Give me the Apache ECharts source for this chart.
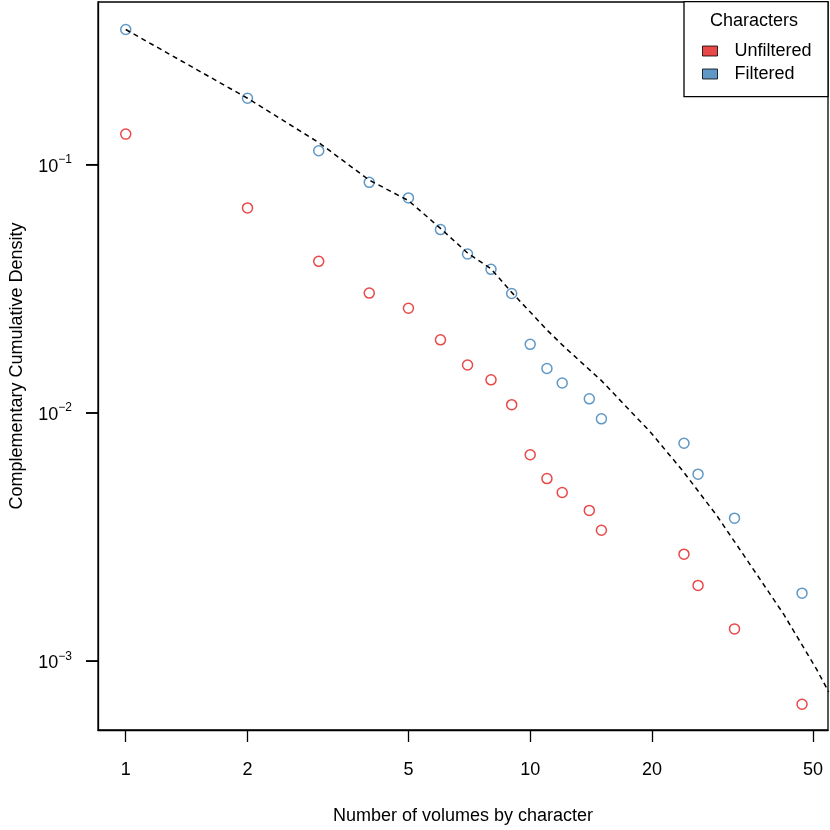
<!DOCTYPE html>
<html>
<head>
<meta charset="utf-8">
<script src="https://cdn.jsdelivr.net/npm/echarts@6/dist/echarts.min.js"></script>
<style>
    html, body {margin: 0; padding: 0; background: #fff;}
    #J_chart {width: 830px; height: 830px;}
</style>
</head>
<body>
<div id="J_chart"></div>
<script>
// number of volumes per character (x)
var volumes = [1, 2, 3, 4, 5, 6, 7, 8, 9, 10, 11, 12, 14, 15, 24, 26, 32, 47];
// complementary cumulative density, filtered characters
var filtered = [0.3505, 0.1852, 0.1138, 0.0849, 0.0735, 0.0548, 0.0437, 0.0379, 0.0303, 0.0189,
    0.0151, 0.0132, 0.0114, 0.00947, 0.00755, 0.00567, 0.00377, 0.00188];
// complementary cumulative density, unfiltered characters
var unfiltered = [0.1328, 0.0670, 0.0408, 0.0304, 0.0264, 0.0197, 0.0156, 0.0136, 0.0108, 0.00679,
    0.00544, 0.00478, 0.00405, 0.00337, 0.00270, 0.00202, 0.00135, 0.000671];
// fitted curve (dashed)
var fitX = [1, 2, 3, 4, 5, 6, 7, 8, 9, 10, 11, 12, 15, 18, 19.7, 23.8, 28.9, 34.8, 42.3, 51, 54.7];
var fitY = [0.3504, 0.1852, 0.1228, 0.0867, 0.0717, 0.0554, 0.0441, 0.0381, 0.0306, 0.0255, 0.0216,
    0.0188, 0.0135, 0.00988, 0.00848, 0.00586, 0.00387, 0.00248, 0.00155, 0.000931, 0.000753];
// tick labels
var xTicks = [1, 2, 5, 10, 20, 50];
var yTicks = [0.001, 0.01, 0.1];

var RED = '#E41A1C', BLUE = '#377EB8';
var FONT = '"Liberation Sans", Arial, Helvetica, sans-serif';
var X_MIN = -0.0686, X_MAX = 1.7363;
var Y_MIN = -3.277, Y_MAX = -0.3446;

function lg(v) {
    return Math.log10(v);
}
function pairs(xs, ys) {
    var out = [];
    for (var i = 0; i < xs.length; i++) {
        out.push([lg(xs[i]), lg(ys[i])]);
    }
    return out;
}

var chart = echarts.init(document.getElementById('J_chart'));
var legendBox = [
    {
        type: 'rect', z: 1,
        shape: {x: 684, y: 1.7, width: 144, height: 95},
        style: {fill: '#fff', stroke: '#000', lineWidth: 1.3}
    },
    {
        type: 'text', z: 2,
        left: 757 - 47, top: 12,
        style: {text: 'Characters', fontSize: 18, fontFamily: FONT, fill: '#000'}
    }
];
var option = {
    animation: false,
    grid: {
        left: 97, right: 2, top: 2, bottom: 98,
        show: true, borderColor: '#000', borderWidth: 1.3
    },
    xAxis: {
        type: 'value',
        min: X_MIN,
        max: X_MAX,
        name: 'Number of volumes by character',
        nameLocation: 'middle',
        nameGap: 77,
        nameTextStyle: {fontSize: 18, color: '#000', fontFamily: FONT},
        axisLine: {show: true, onZero: false, lineStyle: {color: '#000', width: 1.3}},
        axisTick: {
            show: true, length: 12,
            customValues: xTicks.map(lg),
            lineStyle: {color: '#000', width: 1.3}
        },
        axisLabel: {
            customValues: xTicks.map(lg),
            margin: 31,
            fontSize: 18, color: '#000', fontFamily: FONT,
            formatter: function(v) {
                return String(Math.round(Math.pow(10, v)));
            }
        },
        splitLine: {show: false}
    },
    yAxis: {
        type: 'value',
        min: Y_MIN,
        max: Y_MAX,
        name: 'Complementary Cumulative Density',
        nameLocation: 'middle',
        nameGap: 72,
        nameTextStyle: {fontSize: 18, color: '#000', fontFamily: FONT},
        axisLine: {show: true, onZero: false, lineStyle: {color: '#000', width: 1.3}},
        axisTick: {
            show: true, length: 12,
            customValues: yTicks.map(lg),
            lineStyle: {color: '#000', width: 1.5}
        },
        axisLabel: {
            customValues: yTicks.map(lg),
            margin: 26,
            formatter: function(v) {
                return '{b|10}{s|\u2212' + Math.round(-v) + '}';
            },
            rich: {
                b: {fontSize: 18, fontFamily: FONT, color: '#000', lineHeight: 22, verticalAlign: 'bottom'},
                s: {fontSize: 12, fontFamily: FONT, color: '#000', lineHeight: 12, verticalAlign: 'top'}
            }
        },
        splitLine: {show: false}
    },
    legend: {
        orient: 'vertical',
        left: 697,
        top: 37,
        itemWidth: 15,
        itemHeight: 10,
        itemGap: 5,
        icon: 'rect',
        textStyle: {fontSize: 18, color: '#000', fontFamily: FONT, padding: [0, 0, 0, 12]},
        data: [
            {name: 'Unfiltered', itemStyle: {color: RED, borderColor: '#000', borderWidth: 1}},
            {name: 'Filtered', itemStyle: {color: BLUE, borderColor: '#000', borderWidth: 1}}
        ]
    },
    graphic: legendBox,
    series: [
        {
            name: 'Fit',
            type: 'line',
            data: pairs(fitX, fitY),
            showSymbol: false,
            clip: true,
            lineStyle: {color: '#000', width: 1.5, type: [5, 4]},
            z: 3
        },
        {
            name: 'Unfiltered',
            type: 'scatter',
            data: pairs(volumes, unfiltered),
            symbol: 'circle',
            symbolSize: 10,
            itemStyle: {color: 'rgba(0,0,0,0)', borderColor: RED, borderWidth: 1.5}
        },
        {
            name: 'Filtered',
            type: 'scatter',
            data: pairs(volumes, filtered),
            symbol: 'circle',
            symbolSize: 10,
            itemStyle: {color: 'rgba(0,0,0,0)', borderColor: BLUE, borderWidth: 1.5}
        }
    ]
};
chart.setOption(option);

// y tick marks: placed through the axis scale, in case the axis itself skips them
var tickMarks = yTicks.map(function(t) {
    var p = chart.convertToPixel({xAxisIndex: 0, yAxisIndex: 0}, [X_MIN, lg(t)]);
    return {
        type: 'line', z: 5,
        shape: {x1: p[0] - 12, y1: p[1], x2: p[0], y2: p[1]},
        style: {stroke: '#000', lineWidth: 1.5}
    };
});
chart.setOption({graphic: legendBox.concat(tickMarks)});
</script>
</body>
</html>
